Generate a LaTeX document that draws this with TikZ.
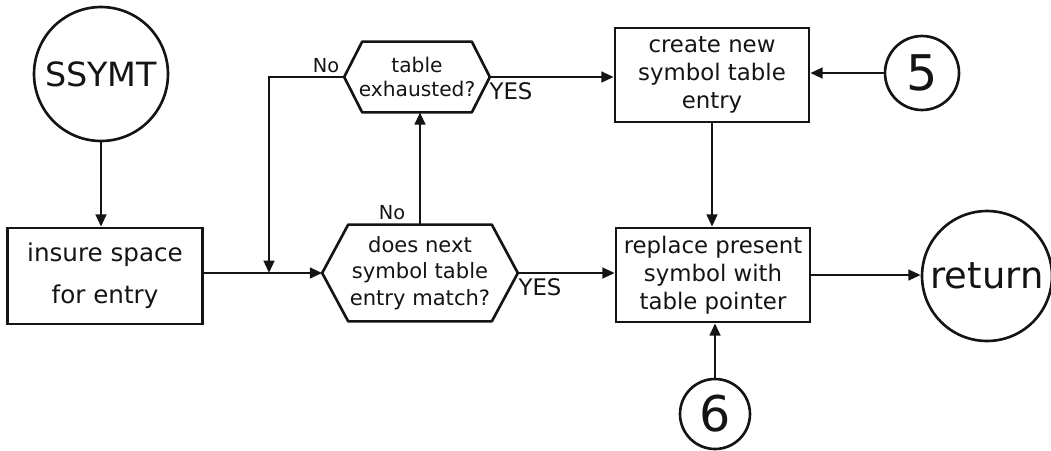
\documentclass[tikz,border=0pt]{standalone}
\usepackage{fontspec}
\setmainfont{DejaVu Sans}
\usetikzlibrary{positioning,arrows.meta,calc}
\definecolor{fcInk}{RGB}{20,20,20}
\tikzset{
    base/.style={font=\fontsize{13}{16}\selectfont, align=center, text=fcInk},
    terminal/.style={base, circle, draw=fcInk, line width=1.5pt, inner sep=0pt},
    process/.style={base, rectangle, draw=fcInk, line width=1.5pt,
                    minimum width=3.88cm, minimum height=1.88cm, inner sep=1mm},
    decision/.style={base, rectangle, inner sep=0pt, font=\fontsize{12}{15}\selectfont},
    flow/.style={-{Triangle[length=7pt,width=6pt]}, line width=1.5pt, color=fcInk},
    line/.style={line width=1.5pt, color=fcInk, line join=round},
    answer/.style={font=\fontsize{12}{14}\selectfont, text=fcInk, inner sep=1pt}
}
% hexagon outline round a decision node: #1 node, #2 corner cut
\newcommand{\hexframe}[2]{%
  \draw[line] (#1.west) -- ($(#1.north west)+(#2,0)$) -- ($(#1.north east)-(#2,0)$)
    -- (#1.east) -- ($(#1.south east)-(#2,0)$) -- ($(#1.south west)+(#2,0)$) -- cycle;}

\begin{document}
\begin{tikzpicture}[x=0.02cm, y=-0.02cm]
  \useasboundingbox (0,0) rectangle (1051,450);

  % entry and first step
  \node[terminal, minimum size=2.68cm, font=\fontsize{19}{22}\selectfont] (ssymt) at (101,74) {SSYMT};
  \node[process, minimum width=3.9cm, minimum height=1.92cm, font=\fontsize{14}{24}\selectfont] (insure) at (105,276) {insure space\\for entry};
  \coordinate (join) at (269,273);

  % the two tests
  \node[decision, minimum width=3.9cm, minimum height=1.92cm] (match) at (420,273) {does next\\symbol table\\entry match?};
  \hexframe{match}{26}
  \node[decision, minimum width=2.9cm, minimum height=1.4cm, font=\fontsize{11.5}{14}\selectfont] (exhausted) at (417,77) {table\\exhausted?};
  \hexframe{exhausted}{18}

  % table updates
  \node[process] (create) at (712,75) {create new\\symbol table\\entry};
  \node[process] (replace) at (713,275) {replace present\\symbol with\\table pointer};

  % connectors off the page and exit
  \node[terminal, minimum size=1.48cm, font=\fontsize{28}{30}\selectfont] (c5) at (922,73) {5};
  \node[terminal, minimum size=1.4cm, font=\fontsize{28}{30}\selectfont] (c6) at (715,414) {6};
  \node[terminal, minimum size=2.6cm, font=\fontsize{21}{24}\selectfont] (ret) at (987,276) {return};

  % answers
  \node[answer, font=\fontsize{11}{12}\selectfont] (no1) at (326,66) {No};
  \node[answer, font=\fontsize{13}{14}\selectfont] (yes1) at (511,91) {YES};
  \node[answer, font=\fontsize{11}{12}\selectfont] (no2) at (392,213) {No};
  \node[answer, font=\fontsize{13}{14}\selectfont] (yes2) at (540,287) {YES};

  % flow
  \draw[flow] (ssymt.south) -- (ssymt.south |- insure.north);
  \draw[flow] (insure.east |- match.west) -- (match.west);
  \draw[flow] (exhausted.west) -- (exhausted.west -| join) -- (join);
  \draw[flow] (match.north) -- (match.north |- exhausted.south);
  \draw[flow] (exhausted.east) -- (exhausted.east -| create.west);
  \draw[flow] (c5.west) -- (c5.west -| create.east);
  \draw[flow] (create.south) -- (create.south |- replace.north);
  \draw[flow] (match.east) -- (match.east -| replace.west);
  \draw[flow] (replace.east) -- (replace.east -| ret.west);
  \draw[flow] (c6.north) -- (c6.north |- replace.south);
\end{tikzpicture}
\end{document}
